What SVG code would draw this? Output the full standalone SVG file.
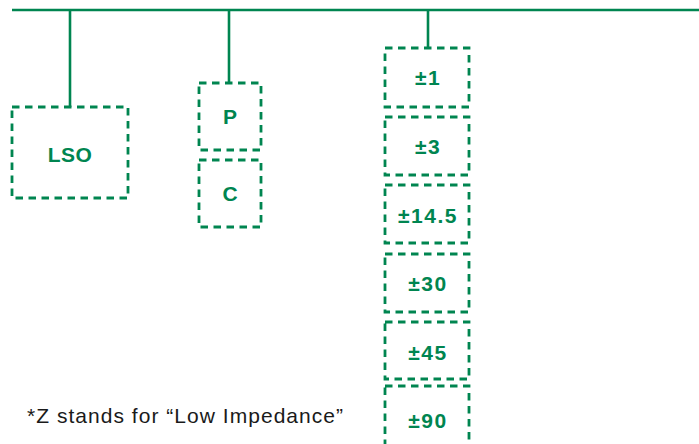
<svg xmlns="http://www.w3.org/2000/svg" width="699" height="444" viewBox="0 0 699 444">
<style>
.box{fill:none;stroke:#008550;stroke-width:2.8;stroke-dasharray:7.5 5.5}
.wire{fill:none;stroke:#008550;stroke-width:2.6}
.lbl{font-family:"Liberation Sans",Arial,sans-serif;font-weight:bold;font-size:21px;fill:#008550;text-anchor:middle}
.note{font-family:"Liberation Sans",Arial,sans-serif;font-size:21px;fill:#1a1a1a}
</style>
<rect width="699" height="444" fill="#ffffff"/>
<g id="connectors">
<line class="wire" x1="12" y1="10" x2="699" y2="10"/>
<line class="wire" x1="70" y1="10" x2="70" y2="107"/>
<line class="wire" x1="229" y1="10" x2="229" y2="83"/>
<line class="wire" x1="428" y1="10" x2="428" y2="48"/>
</g>
<g id="lso"><rect class="box" x="12" y="107" width="116" height="91"/><text class="lbl" x="70" y="162" letter-spacing="0.5">LSO</text></g>
<g id="p"><rect class="box" x="199" y="83" width="62" height="67"/><text class="lbl" x="230" y="124">P</text></g>
<g id="c"><rect class="box" x="199" y="160" width="62" height="67"/><text class="lbl" x="230" y="201">C</text></g>
<g id="r1"><rect class="box" x="385" y="48" width="84" height="59"/><text class="lbl" x="428" y="85" letter-spacing="1.5">±1</text></g>
<g id="r3"><rect class="box" x="385" y="117" width="84" height="58"/><text class="lbl" x="428" y="154" letter-spacing="1.5">±3</text></g>
<g id="r14"><rect class="box" x="385" y="185" width="84" height="58"/><text class="lbl" x="428" y="223" letter-spacing="1.5">±14.5</text></g>
<g id="r30"><rect class="box" x="385" y="254" width="84" height="58"/><text class="lbl" x="428" y="291" letter-spacing="1.5">±30</text></g>
<g id="r45"><rect class="box" x="385" y="322" width="84" height="57"/><text class="lbl" x="428" y="360" letter-spacing="1.5">±45</text></g>
<g id="r90"><rect class="box" x="385" y="386" width="84" height="70"/><text class="lbl" x="428" y="428" letter-spacing="1.5">±90</text></g>
<text class="note" x="27" y="423" textLength="316" lengthAdjust="spacing">*Z stands for “Low Impedance”</text>
</svg>
